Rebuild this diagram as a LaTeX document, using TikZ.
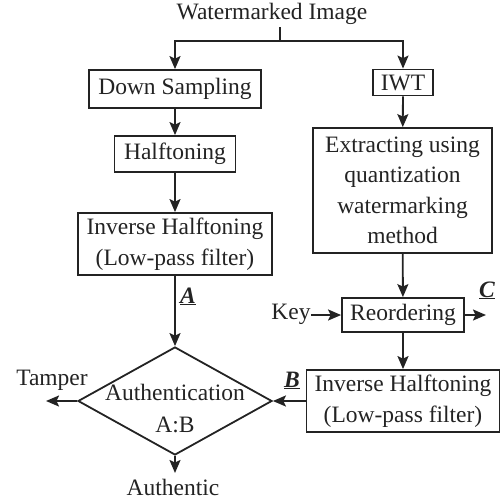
\documentclass[tikz,border=0pt]{standalone}
\usepackage{fontspec}
\setmainfont{Liberation Serif}
\usetikzlibrary{arrows.meta,shapes.geometric}
\definecolor{ink}{RGB}{35,35,35}
\begin{document}
\begin{tikzpicture}[x=1pt,y=-1pt,
  every node/.style={text=ink,font=\fontsize{23.5}{30.5}\selectfont},
  box/.style={draw=ink,line width=1.8pt,inner sep=0pt,align=center},
  lbl/.style={inner sep=0pt,anchor=base},
  arr/.style={draw=ink,line width=1.8pt,-{Stealth[length=13pt,width=11pt,inset=2.5pt]}},
  ln/.style={draw=ink,line width=1.8pt}]
\useasboundingbox (0,0) rectangle (500,504);
% text nodes
\node[lbl] (wm) at (272,19) {Watermarked Image};
\coordinate (stemtop) at (280,27);
\coordinate (split) at (280,41);
% left column
\node[box,minimum width=172pt,minimum height=38pt] (ds) at (175,89) {Down Sampling};
\node[box,minimum width=121pt,minimum height=36pt] (ht) at (175,154) {Halftoning};
\node[box,minimum width=194pt,minimum height=62pt] (ih1) at (175,244) {Inverse Halftoning\\(Low-pass filter)};
\node[diamond,draw=ink,line width=1.8pt,inner sep=0pt,minimum width=194pt,minimum height=108pt] (auth) at (175,401) {};
\node[align=center,inner sep=0pt] (authtxt) at (175,409) {Authentication\\[1.5pt]A:B};
\node[lbl] (tamper) at (52,385) {Tamper};
\node[lbl] (authentic) at (173,495) {Authentic};
\coordinate (tamperend) at (46,401);
\coordinate (authend) at (175,473);
% right column
\node[box,minimum width=60pt,minimum height=26pt] (iwt) at (403,82.5) {IWT};
\node[box,minimum width=179pt,minimum height=125pt] (ext) at (402.5,190.5) {Extracting using\\quantization\\watermarking\\method};
\node[box,minimum width=122pt,minimum height=34pt] (reo) at (403,315) {Reordering};
\node[box,minimum width=193pt,minimum height=62pt] (ih2) at (403,401) {Inverse Halftoning\\(Low-pass filter)};
\node[lbl] (key) at (291,319) {Key};
\coordinate (cend) at (486,315);
% labels
\node[lbl] (la) at (188,303) {\underline{\textbf{\textit{A}}}};
\node[lbl] (lb) at (292,387) {\underline{\textbf{\textit{B}}}};
\node[lbl] (lc) at (487,297) {\underline{\textbf{\textit{C}}}};
% connectors
\draw[ln] (stemtop) -- (split);
\draw[arr] (split) -| (ds.north);
\draw[arr] (split) -| (iwt.north);
\draw[arr] (ds) -- (ht);
\draw[arr] (ht.south) -- (ih1.north);
\draw[arr] (ih1) -- (auth.north);
\draw[arr] (auth.west) -- (tamperend);
\draw[arr] (auth.south) -- (authend);
\draw[arr] (iwt) -- (ext);
\draw[arr] (ext) -- (reo);
\draw[arr] (key.east |- reo.west) -- (reo.west);
\draw[arr] (reo.east) -- (cend);
\draw[arr] (reo) -- (ih2);
\draw[arr] (ih2.west) -- (auth.east);
\end{tikzpicture}
\end{document}
